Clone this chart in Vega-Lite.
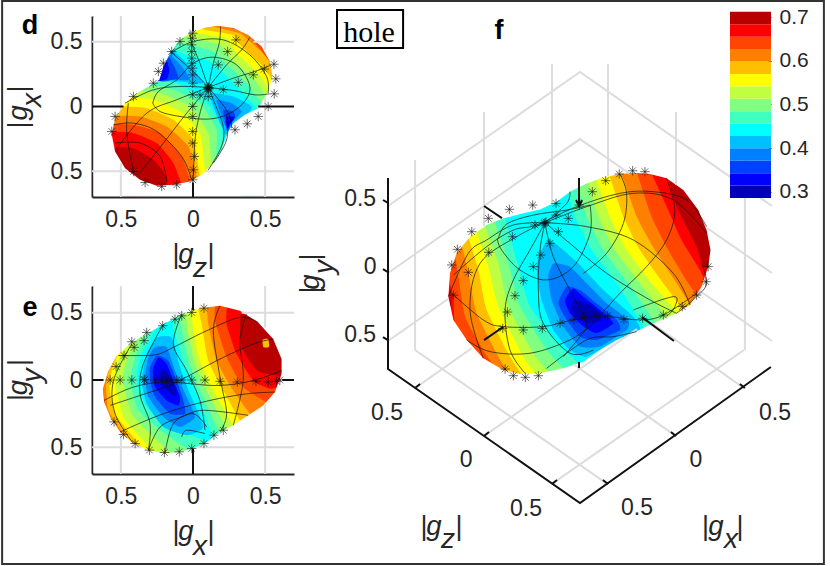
{"$schema":"https://vega.github.io/schema/vega-lite/v6.json","background":"white","padding":{"left":1,"top":0,"right":0,"bottom":0},"bounds":"flush","columns":3,"spacing":{"row":88,"column":94},"config":{"view":{"stroke":null},"axis":{"grid":false,"labelFont":"Liberation Sans","labelFontSize":23,"labelColor":"#262626","domainColor":"#262626","domainWidth":2,"tickColor":"#262626","title":null,"zindex":1}},
"datasets":{
"db":[
{"p":"a","v":0.44,"x":-0.644,"y":0.644},{"p":"a","v":0.44,"x":0.002,"y":0.665},{"p":"a","v":0.44,"x":0.648,"y":0.644},{"p":"a","v":0.44,"x":0.66,"y":0},{"p":"a","v":0.44,"x":0.648,"y":-0.657},{"p":"a","v":0.44,"x":0.002,"y":-0.675},{"p":"a","v":0.44,"x":-0.644,"y":-0.657},{"p":"a","v":0.44,"x":-0.655,"y":0},
{"p":"p1","v":0.47,"x":-0.298,"y":0.219},{"p":"p1","v":0.47,"x":-0.113,"y":0.18},{"p":"p1","v":0.47,"x":0.083,"y":0.052},{"p":"p1","v":0.47,"x":0.198,"y":-0.155},{"p":"p1","v":0.47,"x":0.21,"y":-0.309},{"p":"p1","v":0.47,"x":0.268,"y":-0.387},{"p":"p1","v":0.47,"x":0.095,"y":-0.644},{"p":"p1","v":0.47,"x":-0.644,"y":-0.657},{"p":"p1","v":0.47,"x":-0.644,"y":0.052},
{"p":"p2","v":0.5,"x":-0.355,"y":0.16},{"p":"p2","v":0.5,"x":-0.182,"y":0.149},{"p":"p2","v":0.5,"x":0.048,"y":0.026},{"p":"p2","v":0.5,"x":0.164,"y":-0.18},{"p":"p2","v":0.5,"x":0.164,"y":-0.387},{"p":"p2","v":0.5,"x":0.21,"y":-0.464},{"p":"p2","v":0.5,"x":0.048,"y":-0.644},{"p":"p2","v":0.5,"x":-0.644,"y":-0.657},{"p":"p2","v":0.5,"x":-0.644,"y":0},
{"p":"p3","v":0.53,"x":-0.424,"y":0.116},{"p":"p3","v":0.53,"x":-0.228,"y":0.103},{"p":"p3","v":0.53,"x":-0.021,"y":0},{"p":"p3","v":0.53,"x":0.106,"y":-0.206},{"p":"p3","v":0.53,"x":0.129,"y":-0.438},{"p":"p3","v":0.53,"x":0.164,"y":-0.503},{"p":"p3","v":0.53,"x":0.025,"y":-0.644},{"p":"p3","v":0.53,"x":-0.644,"y":-0.657},{"p":"p3","v":0.53,"x":-0.644,"y":-0.052},
{"p":"p4","v":0.56,"x":-0.482,"y":0.064},{"p":"p4","v":0.56,"x":-0.275,"y":0.052},{"p":"p4","v":0.56,"x":-0.09,"y":-0.039},{"p":"p4","v":0.56,"x":0.048,"y":-0.206},{"p":"p4","v":0.56,"x":0.083,"y":-0.477},{"p":"p4","v":0.56,"x":0.106,"y":-0.554},{"p":"p4","v":0.56,"x":-0.021,"y":-0.657},{"p":"p4","v":0.56,"x":-0.644,"y":-0.657},{"p":"p4","v":0.56,"x":-0.644,"y":-0.103},
{"p":"p5","v":0.58,"x":-0.528,"y":-0.005},{"p":"p5","v":0.58,"x":-0.321,"y":-0.013},{"p":"p5","v":0.58,"x":-0.136,"y":-0.103},{"p":"p5","v":0.58,"x":0.002,"y":-0.258},{"p":"p5","v":0.58,"x":0.042,"y":-0.503},{"p":"p5","v":0.58,"x":0.048,"y":-0.58},{"p":"p5","v":0.58,"x":-0.055,"y":-0.665},{"p":"p5","v":0.58,"x":-0.644,"y":-0.657},{"p":"p5","v":0.58,"x":-0.644,"y":-0.155},
{"p":"p6","v":0.61,"x":-0.586,"y":-0.077},{"p":"p6","v":0.61,"x":-0.367,"y":-0.077},{"p":"p6","v":0.61,"x":-0.182,"y":-0.155},{"p":"p6","v":0.61,"x":-0.032,"y":-0.309},{"p":"p6","v":0.61,"x":0.025,"y":-0.541},{"p":"p6","v":0.61,"x":0.025,"y":-0.618},{"p":"p6","v":0.61,"x":-0.113,"y":-0.665},{"p":"p6","v":0.61,"x":-0.644,"y":-0.657},{"p":"p6","v":0.61,"x":-0.644,"y":-0.18},
{"p":"p7","v":0.64,"x":-0.609,"y":-0.142},{"p":"p7","v":0.64,"x":-0.413,"y":-0.142},{"p":"p7","v":0.64,"x":-0.228,"y":-0.206},{"p":"p7","v":0.64,"x":-0.078,"y":-0.387},{"p":"p7","v":0.64,"x":-0.021,"y":-0.567},{"p":"p7","v":0.64,"x":-0.009,"y":-0.644},{"p":"p7","v":0.64,"x":-0.159,"y":-0.665},{"p":"p7","v":0.64,"x":-0.644,"y":-0.657},{"p":"p7","v":0.64,"x":-0.655,"y":-0.258},
{"p":"p8","v":0.67,"x":-0.609,"y":-0.198},{"p":"p8","v":0.67,"x":-0.413,"y":-0.206},{"p":"p8","v":0.67,"x":-0.251,"y":-0.283},{"p":"p8","v":0.67,"x":-0.136,"y":-0.438},{"p":"p8","v":0.67,"x":-0.078,"y":-0.606},{"p":"p8","v":0.67,"x":-0.078,"y":-0.657},{"p":"p8","v":0.67,"x":-0.205,"y":-0.665},{"p":"p8","v":0.67,"x":-0.644,"y":-0.657},{"p":"p8","v":0.67,"x":-0.644,"y":-0.335},
{"p":"p9","v":0.7,"x":-0.598,"y":-0.335},{"p":"p9","v":0.7,"x":-0.413,"y":-0.322},{"p":"p9","v":0.7,"x":-0.275,"y":-0.412},{"p":"p9","v":0.7,"x":-0.182,"y":-0.541},{"p":"p9","v":0.7,"x":-0.189,"y":-0.631},{"p":"p9","v":0.7,"x":-0.321,"y":-0.657},{"p":"p9","v":0.7,"x":-0.598,"y":-0.58},
{"p":"q1","v":0.47,"x":-0.171,"y":0.477},{"p":"q1","v":0.47,"x":-0.021,"y":0.387},{"p":"q1","v":0.47,"x":0.095,"y":0.361},{"p":"q1","v":0.47,"x":0.198,"y":0.271},{"p":"q1","v":0.47,"x":0.325,"y":0.129},{"p":"q1","v":0.47,"x":0.441,"y":-0.013},{"p":"q1","v":0.47,"x":0.487,"y":-0.064},{"p":"q1","v":0.47,"x":0.648,"y":-0.064},{"p":"q1","v":0.47,"x":0.648,"y":0.644},{"p":"q1","v":0.47,"x":0.048,"y":0.67},
{"p":"q2","v":0.5,"x":-0.136,"y":0.51},{"p":"q2","v":0.5,"x":0.025,"y":0.464},{"p":"q2","v":0.5,"x":0.141,"y":0.425},{"p":"q2","v":0.5,"x":0.233,"y":0.322},{"p":"q2","v":0.5,"x":0.371,"y":0.18},{"p":"q2","v":0.5,"x":0.475,"y":0.026},{"p":"q2","v":0.5,"x":0.533,"y":-0.026},{"p":"q2","v":0.5,"x":0.648,"y":-0.026},{"p":"q2","v":0.5,"x":0.648,"y":0.644},{"p":"q2","v":0.5,"x":0.072,"y":0.67},
{"p":"q3","v":0.53,"x":-0.102,"y":0.554},{"p":"q3","v":0.53,"x":0.06,"y":0.515},{"p":"q3","v":0.53,"x":0.187,"y":0.477},{"p":"q3","v":0.53,"x":0.268,"y":0.361},{"p":"q3","v":0.53,"x":0.418,"y":0.219},{"p":"q3","v":0.53,"x":0.51,"y":0.077},{"p":"q3","v":0.53,"x":0.579,"y":0.039},{"p":"q3","v":0.53,"x":0.648,"y":0.039},{"p":"q3","v":0.53,"x":0.648,"y":0.644},{"p":"q3","v":0.53,"x":0.095,"y":0.67},
{"p":"q4","v":0.56,"x":-0.055,"y":0.593},{"p":"q4","v":0.56,"x":0.095,"y":0.554},{"p":"q4","v":0.56,"x":0.233,"y":0.528},{"p":"q4","v":0.56,"x":0.302,"y":0.412},{"p":"q4","v":0.56,"x":0.452,"y":0.258},{"p":"q4","v":0.56,"x":0.533,"y":0.129},{"p":"q4","v":0.56,"x":0.602,"y":0.103},{"p":"q4","v":0.56,"x":0.648,"y":0.103},{"p":"q4","v":0.56,"x":0.648,"y":0.644},{"p":"q4","v":0.56,"x":0.118,"y":0.67},
{"p":"q5","v":0.58,"x":-0.009,"y":0.618},{"p":"q5","v":0.58,"x":0.141,"y":0.58},{"p":"q5","v":0.58,"x":0.279,"y":0.554},{"p":"q5","v":0.58,"x":0.337,"y":0.464},{"p":"q5","v":0.58,"x":0.487,"y":0.309},{"p":"q5","v":0.58,"x":0.551,"y":0.206},{"p":"q5","v":0.58,"x":0.614,"y":0.18},{"p":"q5","v":0.58,"x":0.648,"y":0.644},{"p":"q5","v":0.58,"x":0.141,"y":0.67},
{"p":"q6","v":0.61,"x":0.037,"y":0.644},{"p":"q6","v":0.61,"x":0.187,"y":0.606},{"p":"q6","v":0.61,"x":0.325,"y":0.567},{"p":"q6","v":0.61,"x":0.383,"y":0.515},{"p":"q6","v":0.61,"x":0.51,"y":0.387},{"p":"q6","v":0.61,"x":0.556,"y":0.283},{"p":"q6","v":0.61,"x":0.614,"y":0.271},{"p":"q6","v":0.61,"x":0.648,"y":0.644},{"p":"q6","v":0.61,"x":0.164,"y":0.683},
{"p":"q7","v":0.64,"x":0.095,"y":0.657},{"p":"q7","v":0.64,"x":0.233,"y":0.618},{"p":"q7","v":0.64,"x":0.371,"y":0.567},{"p":"q7","v":0.64,"x":0.441,"y":0.477},{"p":"q7","v":0.64,"x":0.533,"y":0.348},{"p":"q7","v":0.64,"x":0.614,"y":0.322},{"p":"q7","v":0.64,"x":0.648,"y":0.644},{"p":"q7","v":0.64,"x":0.187,"y":0.683},
{"p":"q8","v":0.67,"x":0.164,"y":0.665},{"p":"q8","v":0.67,"x":0.279,"y":0.606},{"p":"q8","v":0.67,"x":0.394,"y":0.554},{"p":"q8","v":0.67,"x":0.475,"y":0.464},{"p":"q8","v":0.67,"x":0.51,"y":0.412},{"p":"q8","v":0.67,"x":0.614,"y":0.4},{"p":"q8","v":0.67,"x":0.625,"y":0.644},{"p":"q8","v":0.67,"x":0.279,"y":0.683},
{"p":"u1","v":0.41,"x":-0.263,"y":0.206},{"p":"u1","v":0.41,"x":-0.205,"y":0.374},{"p":"u1","v":0.41,"x":-0.148,"y":0.438},{"p":"u1","v":0.41,"x":-0.021,"y":0.309},{"p":"u1","v":0.41,"x":0.072,"y":0.18},{"p":"u1","v":0.41,"x":-0.09,"y":0.193},{"p":"u1","v":0.41,"x":-0.182,"y":0.193},
{"p":"u2","v":0.39,"x":-0.251,"y":0.206},{"p":"u2","v":0.39,"x":-0.205,"y":0.335},{"p":"u2","v":0.39,"x":-0.159,"y":0.399},{"p":"u2","v":0.39,"x":-0.078,"y":0.309},{"p":"u2","v":0.39,"x":-0.021,"y":0.206},{"p":"u2","v":0.39,"x":-0.136,"y":0.206},{"p":"u2","v":0.39,"x":-0.205,"y":0.193},
{"p":"u3","v":0.36,"x":-0.247,"y":0.206},{"p":"u3","v":0.36,"x":-0.205,"y":0.322},{"p":"u3","v":0.36,"x":-0.166,"y":0.381},{"p":"u3","v":0.36,"x":-0.125,"y":0.296},{"p":"u3","v":0.36,"x":-0.102,"y":0.219},{"p":"u3","v":0.36,"x":-0.182,"y":0.201},
{"p":"u4","v":0.33,"x":-0.247,"y":0.201},{"p":"u4","v":0.33,"x":-0.21,"y":0.296},{"p":"u4","v":0.33,"x":-0.182,"y":0.348},{"p":"u4","v":0.33,"x":-0.164,"y":0.283},{"p":"u4","v":0.33,"x":-0.182,"y":0.211},
{"p":"w1","v":0.41,"x":0.118,"y":0.103},{"p":"w1","v":0.41,"x":0.279,"y":0.077},{"p":"w1","v":0.41,"x":0.406,"y":0},{"p":"w1","v":0.41,"x":0.371,"y":-0.077},{"p":"w1","v":0.41,"x":0.279,"y":-0.142},{"p":"w1","v":0.41,"x":0.238,"y":-0.232},{"p":"w1","v":0.41,"x":0.198,"y":-0.155},{"p":"w1","v":0.41,"x":0.141,"y":0},
{"p":"w2","v":0.39,"x":0.164,"y":0.052},{"p":"w2","v":0.39,"x":0.268,"y":0.026},{"p":"w2","v":0.39,"x":0.337,"y":-0.039},{"p":"w2","v":0.39,"x":0.268,"y":-0.129},{"p":"w2","v":0.39,"x":0.245,"y":-0.193},{"p":"w2","v":0.39,"x":0.215,"y":-0.129},{"p":"w2","v":0.39,"x":0.187,"y":-0.039},
{"p":"w3","v":0.36,"x":0.21,"y":-0.026},{"p":"w3","v":0.36,"x":0.279,"y":-0.039},{"p":"w3","v":0.36,"x":0.291,"y":-0.077},{"p":"w3","v":0.36,"x":0.256,"y":-0.142},{"p":"w3","v":0.36,"x":0.238,"y":-0.193},{"p":"w3","v":0.36,"x":0.221,"y":-0.103},
{"p":"w4","v":0.33,"x":0.233,"y":-0.077},{"p":"w4","v":0.33,"x":0.291,"y":-0.082},{"p":"w4","v":0.33,"x":0.256,"y":-0.142},{"p":"w4","v":0.33,"x":0.242,"y":-0.175},{"p":"w4","v":0.33,"x":0.228,"y":-0.129}
],
"dm":[{"x":-0.69,"y":0.69},{"x":-0.69,"y":-0.69},{"x":0.69,"y":-0.69},{"x":0.69,"y":0.69},{"x":-0.69,"y":0.69},{"x":0.175,"y":0.624},{"x":0.279,"y":0.608},{"x":0.383,"y":0.554},{"x":0.475,"y":0.464},{"x":0.533,"y":0.348},{"x":0.551,"y":0.232},{"x":0.521,"y":0.116},{"x":0.452,"y":-0.013},{"x":0.36,"y":-0.064},{"x":0.279,"y":-0.129},{"x":0.238,"y":-0.206},{"x":0.198,"y":-0.335},{"x":0.141,"y":-0.438},{"x":0.06,"y":-0.528},{"x":-0.021,"y":-0.58},{"x":-0.136,"y":-0.606},{"x":-0.251,"y":-0.613},{"x":-0.367,"y":-0.567},{"x":-0.471,"y":-0.477},{"x":-0.54,"y":-0.348},{"x":-0.563,"y":-0.219},{"x":-0.54,"y":-0.09},{"x":-0.471,"y":0.026},{"x":-0.39,"y":0.103},{"x":-0.286,"y":0.168},{"x":-0.233,"y":0.206},{"x":-0.205,"y":0.309},{"x":-0.159,"y":0.412},{"x":-0.09,"y":0.521},{"x":0.002,"y":0.58},{"x":0.095,"y":0.613},{"x":0.175,"y":0.624},{"x":-0.69,"y":0.69}],
"dg":[{"p":"a","k":"g","x":-0.5,"y":0.7},{"p":"a","k":"g","x":-0.5,"y":-0.026},{"p":"b","k":"g","x":-0.5,"y":-0.44},{"p":"b","k":"g","x":-0.5,"y":-0.7},{"p":"c","k":"g","x":0.5,"y":0.7},{"p":"c","k":"g","x":0.5,"y":0.438},{"p":"d","k":"g","x":0.5,"y":0.064},{"p":"d","k":"g","x":0.5,"y":-0.7},{"p":"e","k":"g","x":-0.7,"y":0.5},{"p":"e","k":"g","x":-0.106,"y":0.5},{"p":"f","k":"g","x":0.418,"y":0.5},{"p":"f","k":"g","x":0.7,"y":0.5},{"p":"h","k":"g","x":-0.7,"y":-0.5},{"p":"h","k":"g","x":-0.454,"y":-0.5},{"p":"i","k":"g","x":0.083,"y":-0.5},{"p":"i","k":"g","x":0.7,"y":-0.5},{"p":"j","k":"k","x":0,"y":0.7},{"p":"j","k":"k","x":0,"y":0.58},{"p":"l","k":"k","x":0,"y":-0.588},{"p":"l","k":"k","x":0,"y":-0.7},{"p":"m","k":"k","x":-0.7,"y":0},{"p":"m","k":"k","x":-0.482,"y":0},{"p":"n","k":"k","x":0.452,"y":0},{"p":"n","k":"k","x":0.7,"y":0}],
"dl":[{"p":"r1","x":0.106,"y":0.147},{"p":"r1","x":0.141,"y":0.335},{"p":"r1","x":0.182,"y":0.49},{"p":"r1","x":0.191,"y":0.618},
{"p":"r2","x":0.106,"y":0.147},{"p":"r2","x":0.233,"y":0.322},{"p":"r2","x":0.337,"y":0.438},{"p":"r2","x":0.394,"y":0.536},
{"p":"r3","x":0.106,"y":0.147},{"p":"r3","x":0.279,"y":0.219},{"p":"r3","x":0.429,"y":0.271},{"p":"r3","x":0.544,"y":0.322},
{"p":"r4","x":0.106,"y":0.147},{"p":"r4","x":0.279,"y":0.124},{"p":"r4","x":0.429,"y":0.09},{"p":"r4","x":0.528,"y":0.098},
{"p":"r5","x":0.106,"y":0.147},{"p":"r5","x":0.198,"y":0.026},{"p":"r5","x":0.256,"y":-0.077},{"p":"r5","x":0.268,"y":-0.168},
{"p":"r6","x":0.106,"y":0.147},{"p":"r6","x":0.141,"y":0.052},{"p":"r6","x":0.21,"y":-0.155},{"p":"r6","x":0.198,"y":-0.309},{"p":"r6","x":0.106,"y":-0.49},
{"p":"r7","x":0.106,"y":0.147},{"p":"r7","x":0.048,"y":-0.052},{"p":"r7","x":0.014,"y":-0.258},{"p":"r7","x":0.002,"y":-0.58},
{"p":"r8","x":0.106,"y":0.147},{"p":"r8","x":-0.044,"y":-0.052},{"p":"r8","x":-0.205,"y":-0.283},{"p":"r8","x":-0.378,"y":-0.528},
{"p":"r9","x":0.106,"y":0.147},{"p":"r9","x":-0.113,"y":0.052},{"p":"r9","x":-0.321,"y":-0.052},{"p":"r9","x":-0.528,"y":-0.322},
{"p":"ra","x":0.106,"y":0.147},{"p":"ra","x":-0.09,"y":0.155},{"p":"ra","x":-0.275,"y":0.129},{"p":"ra","x":-0.471,"y":0.026},
{"p":"rb","x":0.106,"y":0.147},{"p":"rb","x":0.025,"y":0.245},{"p":"rb","x":-0.09,"y":0.361},{"p":"rb","x":-0.159,"y":0.425},
{"p":"rc","x":0.106,"y":0.147},{"p":"rc","x":0.048,"y":0.335},{"p":"rc","x":-0.009,"y":0.49},{"p":"rc","x":-0.021,"y":0.58},
{"p":"l1","x":-0.279,"y":0.026},{"p":"l1","x":-0.24,"y":0.116},{"p":"l1","x":-0.113,"y":0.206},{"p":"l1","x":0.002,"y":0.335},{"p":"l1","x":0.141,"y":0.381},{"p":"l1","x":0.302,"y":0.322},{"p":"l1","x":0.394,"y":0.155},{"p":"l1","x":0.348,"y":0.026},{"p":"l1","x":0.233,"y":-0.064},{"p":"l1","x":0.095,"y":-0.098},{"p":"l1","x":-0.09,"y":-0.077},{"p":"l1","x":-0.228,"y":-0.039},{"p":"l1","x":-0.279,"y":0.026},
{"p":"l2","x":-0.159,"y":0.412},{"p":"l2","x":0.002,"y":0.503},{"p":"l2","x":0.21,"y":0.515},{"p":"l2","x":0.394,"y":0.399},{"p":"l2","x":0.51,"y":0.232},{"p":"l2","x":0.521,"y":0.103},
{"p":"l3","x":-0.448,"y":0.026},{"p":"l3","x":-0.459,"y":-0.206},{"p":"l3","x":-0.413,"y":-0.503},
{"p":"l4","x":-0.551,"y":-0.142},{"p":"l4","x":-0.413,"y":-0.129},{"p":"l4","x":-0.251,"y":-0.193},{"p":"l4","x":-0.078,"y":-0.387},{"p":"l4","x":-0.009,"y":-0.567},
{"p":"l5","x":-0.54,"y":-0.283},{"p":"l5","x":-0.367,"y":-0.283},{"p":"l5","x":-0.228,"y":-0.387},{"p":"l5","x":-0.182,"y":-0.58},
{"p":"l6","x":0.233,"y":-0.064},{"p":"l6","x":0.233,"y":-0.258},{"p":"l6","x":0.141,"y":-0.438}],
"ds":[{"x":-0.002,"y":0.567},{"x":-0.005,"y":0.528},{"x":-0.009,"y":0.477},{"x":-0.009,"y":0.425},{"x":-0.009,"y":0.374},{"x":-0.009,"y":0.335},{"x":-0.002,"y":0.296},{"x":-0.002,"y":0.245},{"x":-0.002,"y":0.18},{"x":-0.002,"y":0.09},{"x":-0.002,"y":0},{"x":-0.002,"y":-0.077},{"x":-0.002,"y":-0.193},{"x":-0.002,"y":-0.283},{"x":0.009,"y":-0.387},{"x":0.002,"y":-0.49},{"x":-0.002,"y":-0.567},{"x":0.298,"y":0.515},{"x":0.24,"y":0.425},{"x":0.175,"y":0.322},{"x":0.561,"y":0.327},{"x":0.494,"y":0.289},{"x":0.418,"y":0.245},{"x":0.574,"y":0.214},{"x":0.563,"y":0.098},{"x":0.521,"y":0},{"x":0.452,"y":-0.077},{"x":0.376,"y":-0.134},{"x":0.291,"y":-0.18},{"x":0.314,"y":0.186},{"x":0.21,"y":0.129},{"x":0.106,"y":0.142},{"x":0.11,"y":0.148},{"x":0.102,"y":0.148},{"x":0.11,"y":0.136},{"x":0.102,"y":0.136},{"x":0.106,"y":0.077},{"x":0.048,"y":0.09},{"x":-0.09,"y":0.503},{"x":-0.148,"y":0.425},{"x":-0.205,"y":0.335},{"x":-0.24,"y":0.271},{"x":-0.275,"y":0.18},{"x":-0.413,"y":0.077},{"x":-0.54,"y":-0.077},{"x":-0.563,"y":-0.193},{"x":-0.332,"y":-0.588},{"x":-0.217,"y":-0.618},{"x":-0.113,"y":-0.606},{"x":-0.413,"y":-0.503}],
"dt":[{"t":"|","k":"p","o":"h","x":-0.118,"y":-1.21},{"t":"g","k":"g","o":"h","x":-0.049,"y":-1.21},{"t":"z","k":"s","o":"h","x":0.049,"y":-1.319},{"t":"|","k":"p","o":"h","x":0.125,"y":-1.21},{"t":"|","k":"p","o":"v","x":-1.15,"y":-0.143},{"t":"g","k":"g","o":"v","x":-1.15,"y":-0.05},{"t":"x","k":"s","o":"v","x":-1.053,"y":0.05},{"t":"|","k":"p","o":"v","x":-1.15,"y":0.135}],
"eb":[
{"p":"a","v":0.44,"x":-0.644,"y":0.6},{"p":"a","v":0.44,"x":0.002,"y":0.64},{"p":"a","v":0.44,"x":0.648,"y":0.6},{"p":"a","v":0.44,"x":0.67,"y":0},{"p":"a","v":0.44,"x":0.648,"y":-0.62},{"p":"a","v":0.44,"x":0.002,"y":-0.65},{"p":"a","v":0.44,"x":-0.644,"y":-0.62},{"p":"a","v":0.44,"x":-0.667,"y":0},
{"p":"l1","v":0.47,"x":-0.251,"y":0.441},{"p":"l1","v":0.47,"x":-0.355,"y":0.194},{"p":"l1","v":0.47,"x":-0.39,"y":-0.004},{"p":"l1","v":0.47,"x":-0.321,"y":-0.201},{"p":"l1","v":0.47,"x":-0.159,"y":-0.35},{"p":"l1","v":0.47,"x":0.072,"y":-0.448},{"p":"l1","v":0.47,"x":0.164,"y":-0.572},{"p":"l1","v":0.47,"x":-0.644,"y":-0.621},{"p":"l1","v":0.47,"x":-0.644,"y":0.416},
{"p":"l2","v":0.5,"x":-0.321,"y":0.404},{"p":"l2","v":0.5,"x":-0.401,"y":0.169},{"p":"l2","v":0.5,"x":-0.436,"y":-0.004},{"p":"l2","v":0.5,"x":-0.378,"y":-0.226},{"p":"l2","v":0.5,"x":-0.228,"y":-0.374},{"p":"l2","v":0.5,"x":-0.044,"y":-0.51},{"p":"l2","v":0.5,"x":0.048,"y":-0.596},{"p":"l2","v":0.5,"x":-0.644,"y":-0.621},{"p":"l2","v":0.5,"x":-0.644,"y":0.367},
{"p":"l3","v":0.53,"x":-0.378,"y":0.367},{"p":"l3","v":0.53,"x":-0.459,"y":0.144},{"p":"l3","v":0.53,"x":-0.487,"y":-0.004},{"p":"l3","v":0.53,"x":-0.424,"y":-0.251},{"p":"l3","v":0.53,"x":-0.286,"y":-0.411},{"p":"l3","v":0.53,"x":-0.136,"y":-0.559},{"p":"l3","v":0.53,"x":-0.067,"y":-0.621},{"p":"l3","v":0.53,"x":-0.644,"y":-0.621},{"p":"l3","v":0.53,"x":-0.644,"y":0.317},
{"p":"l4","v":0.56,"x":-0.436,"y":0.317},{"p":"l4","v":0.56,"x":-0.517,"y":0.144},{"p":"l4","v":0.56,"x":-0.54,"y":-0.028},{"p":"l4","v":0.56,"x":-0.482,"y":-0.275},{"p":"l4","v":0.56,"x":-0.367,"y":-0.424},{"p":"l4","v":0.56,"x":-0.228,"y":-0.572},{"p":"l4","v":0.56,"x":-0.159,"y":-0.634},{"p":"l4","v":0.56,"x":-0.644,"y":-0.621},{"p":"l4","v":0.56,"x":-0.644,"y":0.268},
{"p":"l5","v":0.58,"x":-0.505,"y":0.256},{"p":"l5","v":0.58,"x":-0.563,"y":0.07},{"p":"l5","v":0.58,"x":-0.579,"y":-0.053},{"p":"l5","v":0.58,"x":-0.54,"y":-0.251},{"p":"l5","v":0.58,"x":-0.424,"y":-0.411},{"p":"l5","v":0.58,"x":-0.321,"y":-0.547},{"p":"l5","v":0.58,"x":-0.263,"y":-0.621},{"p":"l5","v":0.58,"x":-0.644,"y":-0.621},{"p":"l5","v":0.58,"x":-0.644,"y":0.219},
{"p":"l6","v":0.61,"x":-0.563,"y":0.182},{"p":"l6","v":0.61,"x":-0.602,"y":-0.028},{"p":"l6","v":0.61,"x":-0.586,"y":-0.226},{"p":"l6","v":0.61,"x":-0.482,"y":-0.399},{"p":"l6","v":0.61,"x":-0.413,"y":-0.498},{"p":"l6","v":0.61,"x":-0.367,"y":-0.609},{"p":"l6","v":0.61,"x":-0.644,"y":-0.621},{"p":"l6","v":0.61,"x":-0.644,"y":0.144},
{"p":"l7","v":0.64,"x":-0.609,"y":0.07},{"p":"l7","v":0.64,"x":-0.625,"y":-0.053},{"p":"l7","v":0.64,"x":-0.593,"y":-0.251},{"p":"l7","v":0.64,"x":-0.528,"y":-0.362},{"p":"l7","v":0.64,"x":-0.459,"y":-0.473},{"p":"l7","v":0.64,"x":-0.436,"y":-0.572},{"p":"l7","v":0.64,"x":-0.655,"y":-0.596},{"p":"l7","v":0.64,"x":-0.655,"y":0.07},
{"p":"l8","v":0.67,"x":-0.632,"y":-0.102},{"p":"l8","v":0.67,"x":-0.616,"y":-0.214},{"p":"l8","v":0.67,"x":-0.563,"y":-0.325},{"p":"l8","v":0.67,"x":-0.505,"y":-0.424},{"p":"l8","v":0.67,"x":-0.551,"y":-0.498},{"p":"l8","v":0.67,"x":-0.655,"y":-0.448},{"p":"l8","v":0.67,"x":-0.667,"y":-0.102},
{"p":"r1","v":0.47,"x":-0.171,"y":0.503},{"p":"r1","v":0.47,"x":-0.148,"y":0.453},{"p":"r1","v":0.47,"x":-0.113,"y":0.293},{"p":"r1","v":0.47,"x":-0.055,"y":0.095},{"p":"r1","v":0.47,"x":0.025,"y":-0.103},{"p":"r1","v":0.47,"x":0.141,"y":-0.436},{"p":"r1","v":0.47,"x":0.187,"y":-0.547},{"p":"r1","v":0.47,"x":0.635,"y":-0.498},{"p":"r1","v":0.47,"x":0.635,"y":0.589},{"p":"r1","v":0.47,"x":0.048,"y":0.601},
{"p":"r2","v":0.5,"x":-0.125,"y":0.527},{"p":"r2","v":0.5,"x":-0.102,"y":0.478},{"p":"r2","v":0.5,"x":-0.067,"y":0.317},{"p":"r2","v":0.5,"x":-0.021,"y":0.107},{"p":"r2","v":0.5,"x":0.06,"y":-0.103},{"p":"r2","v":0.5,"x":0.187,"y":-0.399},{"p":"r2","v":0.5,"x":0.256,"y":-0.498},{"p":"r2","v":0.5,"x":0.635,"y":-0.498},{"p":"r2","v":0.5,"x":0.635,"y":0.589},{"p":"r2","v":0.5,"x":0.072,"y":0.601},
{"p":"r3","v":0.53,"x":-0.067,"y":0.552},{"p":"r3","v":0.53,"x":-0.055,"y":0.503},{"p":"r3","v":0.53,"x":-0.032,"y":0.342},{"p":"r3","v":0.53,"x":0.014,"y":0.12},{"p":"r3","v":0.53,"x":0.106,"y":-0.103},{"p":"r3","v":0.53,"x":0.233,"y":-0.362},{"p":"r3","v":0.53,"x":0.291,"y":-0.448},{"p":"r3","v":0.53,"x":0.635,"y":-0.473},{"p":"r3","v":0.53,"x":0.635,"y":0.589},{"p":"r3","v":0.53,"x":0.095,"y":0.601},
{"p":"r4","v":0.56,"x":-0.021,"y":0.564},{"p":"r4","v":0.56,"x":-0.009,"y":0.515},{"p":"r4","v":0.56,"x":0.002,"y":0.367},{"p":"r4","v":0.56,"x":0.048,"y":0.144},{"p":"r4","v":0.56,"x":0.152,"y":-0.103},{"p":"r4","v":0.56,"x":0.279,"y":-0.337},{"p":"r4","v":0.56,"x":0.337,"y":-0.424},{"p":"r4","v":0.56,"x":0.635,"y":-0.448},{"p":"r4","v":0.56,"x":0.635,"y":0.589},{"p":"r4","v":0.56,"x":0.118,"y":0.601},
{"p":"r5","v":0.58,"x":0.025,"y":0.577},{"p":"r5","v":0.58,"x":0.037,"y":0.527},{"p":"r5","v":0.58,"x":0.06,"y":0.416},{"p":"r5","v":0.58,"x":0.106,"y":0.144},{"p":"r5","v":0.58,"x":0.21,"y":-0.078},{"p":"r5","v":0.58,"x":0.325,"y":-0.3},{"p":"r5","v":0.58,"x":0.383,"y":-0.374},{"p":"r5","v":0.58,"x":0.635,"y":-0.424},{"p":"r5","v":0.58,"x":0.635,"y":0.589},{"p":"r5","v":0.58,"x":0.141,"y":0.614},
{"p":"r6","v":0.61,"x":0.083,"y":0.589},{"p":"r6","v":0.61,"x":0.095,"y":0.54},{"p":"r6","v":0.61,"x":0.106,"y":0.416},{"p":"r6","v":0.61,"x":0.164,"y":0.144},{"p":"r6","v":0.61,"x":0.279,"y":-0.078},{"p":"r6","v":0.61,"x":0.394,"y":-0.251},{"p":"r6","v":0.61,"x":0.452,"y":-0.325},{"p":"r6","v":0.61,"x":0.635,"y":-0.399},{"p":"r6","v":0.61,"x":0.635,"y":0.589},{"p":"r6","v":0.61,"x":0.164,"y":0.614},
{"p":"r7","v":0.64,"x":0.141,"y":0.601},{"p":"r7","v":0.64,"x":0.152,"y":0.552},{"p":"r7","v":0.64,"x":0.152,"y":0.441},{"p":"r7","v":0.64,"x":0.233,"y":0.169},{"p":"r7","v":0.64,"x":0.348,"y":-0.053},{"p":"r7","v":0.64,"x":0.487,"y":-0.152},{"p":"r7","v":0.64,"x":0.579,"y":-0.201},{"p":"r7","v":0.64,"x":0.635,"y":-0.325},{"p":"r7","v":0.64,"x":0.635,"y":0.589},{"p":"r7","v":0.64,"x":0.233,"y":0.618},
{"p":"r8","v":0.67,"x":0.221,"y":0.589},{"p":"r8","v":0.67,"x":0.233,"y":0.545},{"p":"r8","v":0.67,"x":0.233,"y":0.416},{"p":"r8","v":0.67,"x":0.302,"y":0.194},{"p":"r8","v":0.67,"x":0.418,"y":-0.004},{"p":"r8","v":0.67,"x":0.533,"y":-0.065},{"p":"r8","v":0.67,"x":0.591,"y":-0.053},{"p":"r8","v":0.67,"x":0.635,"y":-0.028},{"p":"r8","v":0.67,"x":0.635,"y":0.589},{"p":"r8","v":0.67,"x":0.279,"y":0.618},
{"p":"r9","v":0.7,"x":0.325,"y":0.441},{"p":"r9","v":0.7,"x":0.337,"y":0.243},{"p":"r9","v":0.7,"x":0.441,"y":0.07},{"p":"r9","v":0.7,"x":0.579,"y":0.033},{"p":"r9","v":0.7,"x":0.648,"y":0.058},{"p":"r9","v":0.7,"x":0.648,"y":0.342},{"p":"r9","v":0.7,"x":0.487,"y":0.466},{"p":"r9","v":0.7,"x":0.348,"y":0.527},
{"p":"rz","v":0.58,"x":0.482,"y":0.298},{"p":"rz","v":0.58,"x":0.521,"y":0.305},{"p":"rz","v":0.58,"x":0.528,"y":0.248},{"p":"rz","v":0.58,"x":0.489,"y":0.243},
{"p":"u1","v":0.41,"x":-0.251,"y":0.317},{"p":"u1","v":0.41,"x":-0.148,"y":0.317},{"p":"u1","v":0.41,"x":-0.09,"y":0.095},{"p":"u1","v":0.41,"x":-0.021,"y":-0.103},{"p":"u1","v":0.41,"x":0.072,"y":-0.35},{"p":"u1","v":0.41,"x":-0.044,"y":-0.411},{"p":"u1","v":0.41,"x":-0.205,"y":-0.35},{"p":"u1","v":0.41,"x":-0.321,"y":-0.177},{"p":"u1","v":0.41,"x":-0.355,"y":-0.004},{"p":"u1","v":0.41,"x":-0.321,"y":0.194},
{"p":"u2","v":0.39,"x":-0.263,"y":0.243},{"p":"u2","v":0.39,"x":-0.182,"y":0.243},{"p":"u2","v":0.39,"x":-0.125,"y":0.07},{"p":"u2","v":0.39,"x":-0.055,"y":-0.103},{"p":"u2","v":0.39,"x":0.014,"y":-0.275},{"p":"u2","v":0.39,"x":-0.09,"y":-0.35},{"p":"u2","v":0.39,"x":-0.205,"y":-0.275},{"p":"u2","v":0.39,"x":-0.309,"y":-0.127},{"p":"u2","v":0.39,"x":-0.332,"y":0.021},{"p":"u2","v":0.39,"x":-0.309,"y":0.169},
{"p":"u3","v":0.36,"x":-0.251,"y":0.182},{"p":"u3","v":0.36,"x":-0.171,"y":0.144},{"p":"u3","v":0.36,"x":-0.113,"y":-0.004},{"p":"u3","v":0.36,"x":-0.067,"y":-0.152},{"p":"u3","v":0.36,"x":-0.055,"y":-0.251},{"p":"u3","v":0.36,"x":-0.159,"y":-0.251},{"p":"u3","v":0.36,"x":-0.263,"y":-0.127},{"p":"u3","v":0.36,"x":-0.298,"y":-0.004},{"p":"u3","v":0.36,"x":-0.298,"y":0.095},
{"p":"u4","v":0.33,"x":-0.24,"y":0.169},{"p":"u4","v":0.33,"x":-0.182,"y":0.12},{"p":"u4","v":0.33,"x":-0.136,"y":-0.004},{"p":"u4","v":0.33,"x":-0.09,"y":-0.127},{"p":"u4","v":0.33,"x":-0.102,"y":-0.189},{"p":"u4","v":0.33,"x":-0.182,"y":-0.152},{"p":"u4","v":0.33,"x":-0.263,"y":-0.053},{"p":"u4","v":0.33,"x":-0.279,"y":0.07},
{"p":"u5","v":0.3,"x":-0.205,"y":0.083},{"p":"u5","v":0.3,"x":-0.159,"y":0.021},{"p":"u5","v":0.3,"x":-0.113,"y":-0.103},{"p":"u5","v":0.3,"x":-0.136,"y":-0.115},{"p":"u5","v":0.3,"x":-0.205,"y":-0.053},{"p":"u5","v":0.3,"x":-0.24,"y":0.021}
],
"em":[{"x":-0.69,"y":0.69},{"x":-0.69,"y":-0.69},{"x":0.69,"y":-0.69},{"x":0.69,"y":0.69},{"x":-0.69,"y":0.69},{"x":0.187,"y":0.552},{"x":0.325,"y":0.515},{"x":0.452,"y":0.429},{"x":0.556,"y":0.305},{"x":0.614,"y":0.157},{"x":0.614,"y":0.046},{"x":0.568,"y":-0.09},{"x":0.487,"y":-0.189},{"x":0.383,"y":-0.263},{"x":0.279,"y":-0.337},{"x":0.187,"y":-0.387},{"x":0.083,"y":-0.473},{"x":0.002,"y":-0.51},{"x":-0.09,"y":-0.535},{"x":-0.194,"y":-0.547},{"x":-0.309,"y":-0.522},{"x":-0.413,"y":-0.473},{"x":-0.505,"y":-0.387},{"x":-0.574,"y":-0.275},{"x":-0.616,"y":-0.164},{"x":-0.625,"y":-0.065},{"x":-0.586,"y":0.07},{"x":-0.528,"y":0.182},{"x":-0.424,"y":0.28},{"x":-0.321,"y":0.342},{"x":-0.205,"y":0.416},{"x":-0.078,"y":0.49},{"x":0.048,"y":0.535},{"x":0.187,"y":0.552},{"x":-0.69,"y":0.69}],
"eg":[{"p":"a","k":"g","x":-0.5,"y":0.7},{"p":"a","k":"g","x":-0.5,"y":0.206},{"p":"b","k":"g","x":-0.5,"y":-0.389},{"p":"b","k":"g","x":-0.5,"y":-0.7},{"p":"c","k":"g","x":0.5,"y":0.7},{"p":"c","k":"g","x":0.5,"y":0.39},{"p":"d","k":"g","x":0.5,"y":-0.177},{"p":"d","k":"g","x":0.5,"y":-0.7},{"p":"e","k":"g","x":-0.7,"y":0.5},{"p":"e","k":"g","x":-0.067,"y":0.5},{"p":"f","k":"g","x":0.337,"y":0.5},{"p":"f","k":"g","x":0.7,"y":0.5},{"p":"h","k":"g","x":-0.7,"y":-0.5},{"p":"h","k":"g","x":-0.355,"y":-0.5},{"p":"i","k":"g","x":0.037,"y":-0.5},{"p":"i","k":"g","x":0.7,"y":-0.5},{"p":"j","k":"k","x":0,"y":0.7},{"p":"j","k":"k","x":0,"y":0.52},{"p":"l","k":"k","x":0,"y":-0.51},{"p":"l","k":"k","x":0,"y":-0.7},{"p":"m","k":"k","x":-0.7,"y":0},{"p":"m","k":"k","x":-0.62,"y":0},{"p":"n","k":"k","x":0.618,"y":0},{"p":"n","k":"k","x":0.7,"y":0}],
"el":[{"p":"a","x":-0.616,"y":-0.152},{"p":"a","x":-0.413,"y":-0.053},{"p":"a","x":-0.182,"y":-0.016},{"p":"a","x":0.164,"y":-0.041},{"p":"a","x":0.418,"y":-0.004},{"p":"a","x":0.614,"y":0.07},
{"p":"b","x":-0.517,"y":0.182},{"p":"b","x":-0.39,"y":0.182},{"p":"b","x":-0.251,"y":0.189},{"p":"b","x":-0.136,"y":0.243},{"p":"b","x":0.095,"y":0.367},{"p":"b","x":0.325,"y":0.466},{"p":"b","x":0.452,"y":0.429},
{"p":"c","x":-0.574,"y":-0.189},{"p":"c","x":-0.367,"y":-0.115},{"p":"c","x":-0.136,"y":-0.028},{"p":"c","x":0.164,"y":0.144},{"p":"c","x":0.418,"y":0.268},{"p":"c","x":0.556,"y":0.305},
{"p":"d","x":-0.505,"y":-0.387},{"p":"d","x":-0.321,"y":-0.3},{"p":"d","x":-0.136,"y":-0.226},{"p":"d","x":0.118,"y":-0.152},{"p":"d","x":0.371,"y":-0.103},{"p":"d","x":0.568,"y":-0.09},
{"p":"e","x":-0.309,"y":-0.522},{"p":"e","x":-0.228,"y":-0.35},{"p":"e","x":-0.078,"y":-0.275},{"p":"e","x":0.072,"y":-0.226},{"p":"e","x":0.383,"y":-0.263},
{"p":"v1","x":-0.424,"y":0.268},{"p":"v1","x":-0.551,"y":-0.004},{"p":"v1","x":-0.54,"y":-0.251},{"p":"v1","x":-0.413,"y":-0.473},
{"p":"v2","x":-0.205,"y":0.416},{"p":"v2","x":-0.344,"y":0.12},{"p":"v2","x":-0.367,"y":-0.103},{"p":"v2","x":-0.298,"y":-0.325},{"p":"v2","x":-0.309,"y":-0.522},
{"p":"v3","x":-0.078,"y":0.49},{"p":"v3","x":-0.136,"y":0.268},{"p":"v3","x":-0.044,"y":0.07},{"p":"v3","x":0.048,"y":-0.152},{"p":"v3","x":0.083,"y":-0.374},
{"p":"v4","x":0.187,"y":0.552},{"p":"v4","x":0.141,"y":0.367},{"p":"v4","x":0.187,"y":0.021},{"p":"v4","x":0.233,"y":-0.251},{"p":"v4","x":0.187,"y":-0.387},
{"p":"v5","x":0.371,"y":0.49},{"p":"v5","x":0.325,"y":0.293},{"p":"v5","x":0.348,"y":-0.004},{"p":"v5","x":0.279,"y":-0.337},
{"p":"v7","x":-0.078,"y":-0.424},{"p":"v7","x":-0.044,"y":-0.374},{"p":"v7","x":0.083,"y":-0.399},
{"p":"v8","x":-0.194,"y":-0.547},{"p":"v8","x":-0.136,"y":-0.325},{"p":"v8","x":0.002,"y":-0.251},{"p":"v8","x":0.095,"y":-0.35}],
"es":[{"x":-0.574,"y":0},{"x":-0.505,"y":0},{"x":-0.424,"y":0},{"x":-0.339,"y":0},{"x":-0.335,"y":0.004},{"x":-0.263,"y":0},{"x":-0.217,"y":0},{"x":-0.182,"y":0},{"x":-0.148,"y":0},{"x":-0.113,"y":0},{"x":-0.078,"y":0},{"x":-0.009,"y":0},{"x":0.083,"y":0},{"x":0.187,"y":-0.01},{"x":0.307,"y":-0.015},{"x":0.436,"y":-0.01},{"x":0.521,"y":-0.015},{"x":0.579,"y":-0.01},{"x":0.602,"y":0},{"x":-0.424,"y":0.285},{"x":-0.408,"y":0.243},{"x":-0.478,"y":0.182},{"x":-0.533,"y":0.1},{"x":-0.321,"y":0.354},{"x":-0.21,"y":0.404},{"x":-0.125,"y":0.453},{"x":-0.078,"y":0.478},{"x":-0.339,"y":0.293},{"x":-0.009,"y":0.503},{"x":0.076,"y":0.535},{"x":-0.547,"y":-0.312},{"x":-0.482,"y":-0.406},{"x":-0.401,"y":-0.473},{"x":-0.302,"y":-0.522},{"x":-0.198,"y":-0.54},{"x":-0.095,"y":-0.535},{"x":-0.009,"y":-0.51},{"x":0.076,"y":-0.473},{"x":0.145,"y":-0.411},{"x":0.21,"y":-0.374}],
"et":[{"t":"|","k":"p","o":"h","x":-0.118,"y":-1.189},{"t":"g","k":"g","o":"h","x":-0.049,"y":-1.189},{"t":"x","k":"s","o":"h","x":0.049,"y":-1.3},{"t":"|","k":"p","o":"h","x":0.125,"y":-1.189},{"t":"|","k":"p","o":"v","x":-1.15,"y":-0.13},{"t":"g","k":"g","o":"v","x":-1.15,"y":-0.056},{"t":"y","k":"s","o":"v","x":-1.053,"y":0.033},{"t":"|","k":"p","o":"v","x":-1.15,"y":0.13}],
"fb":[
{"p":"a","v":0.44,"x":-1.078,"y":0.843},{"p":"a","v":0.44,"x":0,"y":0.87},{"p":"a","v":0.44,"x":1.078,"y":0.843},{"p":"a","v":0.44,"x":1.1,"y":0},{"p":"a","v":0.44,"x":1.078,"y":-0.872},{"p":"a","v":0.44,"x":0,"y":-0.9},{"p":"a","v":0.44,"x":-1.078,"y":-0.872},{"p":"a","v":0.44,"x":-1.1,"y":0},
{"p":"l1","v":0.47,"x":-0.564,"y":0.488},{"p":"l1","v":0.47,"x":-0.551,"y":0.402},{"p":"l1","v":0.47,"x":-0.466,"y":0.096},{"p":"l1","v":0.47,"x":-0.368,"y":-0.247},{"p":"l1","v":0.47,"x":-0.147,"y":-0.541},{"p":"l1","v":0.47,"x":-0.025,"y":-0.652},{"p":"l1","v":0.47,"x":0.025,"y":-0.786},{"p":"l1","v":0.47,"x":-1.078,"y":-0.835},{"p":"l1","v":0.47,"x":-1.078,"y":0.512},
{"p":"l2","v":0.5,"x":-0.637,"y":0.463},{"p":"l2","v":0.5,"x":-0.625,"y":0.377},{"p":"l2","v":0.5,"x":-0.527,"y":0.071},{"p":"l2","v":0.5,"x":-0.441,"y":-0.247},{"p":"l2","v":0.5,"x":-0.245,"y":-0.566},{"p":"l2","v":0.5,"x":-0.123,"y":-0.701},{"p":"l2","v":0.5,"x":-0.086,"y":-0.811},{"p":"l2","v":0.5,"x":-1.078,"y":-0.835},{"p":"l2","v":0.5,"x":-1.078,"y":0.5},
{"p":"l3","v":0.53,"x":-0.711,"y":0.414},{"p":"l3","v":0.53,"x":-0.698,"y":0.345},{"p":"l3","v":0.53,"x":-0.6,"y":0.071},{"p":"l3","v":0.53,"x":-0.527,"y":-0.247},{"p":"l3","v":0.53,"x":-0.343,"y":-0.59},{"p":"l3","v":0.53,"x":-0.233,"y":-0.733},{"p":"l3","v":0.53,"x":-0.196,"y":-0.823},{"p":"l3","v":0.53,"x":-1.078,"y":-0.835},{"p":"l3","v":0.53,"x":-1.078,"y":0.475},
{"p":"l4","v":0.56,"x":-0.784,"y":0.377},{"p":"l4","v":0.56,"x":-0.76,"y":0.304},{"p":"l4","v":0.56,"x":-0.674,"y":0.047},{"p":"l4","v":0.56,"x":-0.6,"y":-0.247},{"p":"l4","v":0.56,"x":-0.417,"y":-0.615},{"p":"l4","v":0.56,"x":-0.319,"y":-0.75},{"p":"l4","v":0.56,"x":-0.282,"y":-0.835},{"p":"l4","v":0.56,"x":-1.078,"y":-0.835},{"p":"l4","v":0.56,"x":-1.078,"y":0.451},
{"p":"l5","v":0.58,"x":-0.845,"y":0.328},{"p":"l5","v":0.58,"x":-0.821,"y":0.262},{"p":"l5","v":0.58,"x":-0.747,"y":0.022},{"p":"l5","v":0.58,"x":-0.686,"y":-0.272},{"p":"l5","v":0.58,"x":-0.515,"y":-0.615},{"p":"l5","v":0.58,"x":-0.417,"y":-0.762},{"p":"l5","v":0.58,"x":-0.38,"y":-0.84},{"p":"l5","v":0.58,"x":-1.078,"y":-0.835},{"p":"l5","v":0.58,"x":-1.078,"y":0.414},
{"p":"l6","v":0.61,"x":-0.907,"y":0.267},{"p":"l6","v":0.61,"x":-0.87,"y":0.206},{"p":"l6","v":0.61,"x":-0.821,"y":-0.002},{"p":"l6","v":0.61,"x":-0.76,"y":-0.296},{"p":"l6","v":0.61,"x":-0.6,"y":-0.615},{"p":"l6","v":0.61,"x":-0.515,"y":-0.75},{"p":"l6","v":0.61,"x":-0.478,"y":-0.835},{"p":"l6","v":0.61,"x":-1.078,"y":-0.835},{"p":"l6","v":0.61,"x":-1.078,"y":0.365},
{"p":"l7","v":0.64,"x":-0.956,"y":0.181},{"p":"l7","v":0.64,"x":-0.919,"y":0.12},{"p":"l7","v":0.64,"x":-0.894,"y":-0.027},{"p":"l7","v":0.64,"x":-0.845,"y":-0.321},{"p":"l7","v":0.64,"x":-0.698,"y":-0.59},{"p":"l7","v":0.64,"x":-0.6,"y":-0.725},{"p":"l7","v":0.64,"x":-0.564,"y":-0.811},{"p":"l7","v":0.64,"x":-1.078,"y":-0.811},{"p":"l7","v":0.64,"x":-1.078,"y":0.267},
{"p":"l8","v":0.67,"x":-1.005,"y":0.047},{"p":"l8","v":0.67,"x":-0.968,"y":-0.027},{"p":"l8","v":0.67,"x":-0.931,"y":-0.198},{"p":"l8","v":0.67,"x":-0.919,"y":-0.37},{"p":"l8","v":0.67,"x":-0.809,"y":-0.541},{"p":"l8","v":0.67,"x":-0.711,"y":-0.652},{"p":"l8","v":0.67,"x":-0.649,"y":-0.762},{"p":"l8","v":0.67,"x":-1.078,"y":-0.762},{"p":"l8","v":0.67,"x":-1.078,"y":0.071},
{"p":"l9","v":0.7,"x":-1.017,"y":-0.149},{"p":"l9","v":0.7,"x":-0.951,"y":-0.198},{"p":"l9","v":0.7,"x":-0.943,"y":-0.321},{"p":"l9","v":0.7,"x":-0.858,"y":-0.492},{"p":"l9","v":0.7,"x":-0.931,"y":-0.517},{"p":"l9","v":0.7,"x":-1.029,"y":-0.37},
{"p":"r1","v":0.47,"x":-0.098,"y":0.635},{"p":"r1","v":0.47,"x":-0.086,"y":0.586},{"p":"r1","v":0.47,"x":-0.037,"y":0.414},{"p":"r1","v":0.47,"x":0.086,"y":0.169},{"p":"r1","v":0.47,"x":0.27,"y":-0.076},{"p":"r1","v":0.47,"x":0.453,"y":-0.37},{"p":"r1","v":0.47,"x":0.515,"y":-0.517},{"p":"r1","v":0.47,"x":1.078,"y":-0.566},{"p":"r1","v":0.47,"x":1.078,"y":0.831},{"p":"r1","v":0.47,"x":0.049,"y":0.831},
{"p":"r2","v":0.5,"x":-0.025,"y":0.671},{"p":"r2","v":0.5,"x":-0.012,"y":0.622},{"p":"r2","v":0.5,"x":0.049,"y":0.414},{"p":"r2","v":0.5,"x":0.172,"y":0.169},{"p":"r2","v":0.5,"x":0.355,"y":-0.076},{"p":"r2","v":0.5,"x":0.539,"y":-0.345},{"p":"r2","v":0.5,"x":0.613,"y":-0.492},{"p":"r2","v":0.5,"x":1.078,"y":-0.541},{"p":"r2","v":0.5,"x":1.078,"y":0.831},{"p":"r2","v":0.5,"x":0.098,"y":0.831},
{"p":"r3","v":0.53,"x":0.049,"y":0.708},{"p":"r3","v":0.53,"x":0.061,"y":0.659},{"p":"r3","v":0.53,"x":0.135,"y":0.414},{"p":"r3","v":0.53,"x":0.257,"y":0.169},{"p":"r3","v":0.53,"x":0.441,"y":-0.076},{"p":"r3","v":0.53,"x":0.625,"y":-0.309},{"p":"r3","v":0.53,"x":0.698,"y":-0.443},{"p":"r3","v":0.53,"x":1.078,"y":-0.492},{"p":"r3","v":0.53,"x":1.078,"y":0.831},{"p":"r3","v":0.53,"x":0.147,"y":0.831},
{"p":"r4","v":0.56,"x":0.11,"y":0.733},{"p":"r4","v":0.56,"x":0.122,"y":0.684},{"p":"r4","v":0.56,"x":0.22,"y":0.414},{"p":"r4","v":0.56,"x":0.343,"y":0.169},{"p":"r4","v":0.56,"x":0.527,"y":-0.076},{"p":"r4","v":0.56,"x":0.698,"y":-0.272},{"p":"r4","v":0.56,"x":0.772,"y":-0.382},{"p":"r4","v":0.56,"x":1.078,"y":-0.443},{"p":"r4","v":0.56,"x":1.078,"y":0.831},{"p":"r4","v":0.56,"x":0.196,"y":0.831},
{"p":"r5","v":0.58,"x":0.208,"y":0.769},{"p":"r5","v":0.58,"x":0.22,"y":0.708},{"p":"r5","v":0.58,"x":0.319,"y":0.414},{"p":"r5","v":0.58,"x":0.441,"y":0.169},{"p":"r5","v":0.58,"x":0.613,"y":-0.076},{"p":"r5","v":0.58,"x":0.76,"y":-0.272},{"p":"r5","v":0.58,"x":0.833,"y":-0.345},{"p":"r5","v":0.58,"x":1.078,"y":-0.394},{"p":"r5","v":0.58,"x":1.078,"y":0.831},{"p":"r5","v":0.58,"x":0.27,"y":0.843},
{"p":"r6","v":0.61,"x":0.294,"y":0.782},{"p":"r6","v":0.61,"x":0.306,"y":0.733},{"p":"r6","v":0.61,"x":0.417,"y":0.414},{"p":"r6","v":0.61,"x":0.551,"y":0.169},{"p":"r6","v":0.61,"x":0.711,"y":-0.076},{"p":"r6","v":0.61,"x":0.821,"y":-0.247},{"p":"r6","v":0.61,"x":0.894,"y":-0.309},{"p":"r6","v":0.61,"x":1.078,"y":-0.345},{"p":"r6","v":0.61,"x":1.078,"y":0.831},{"p":"r6","v":0.61,"x":0.355,"y":0.843},
{"p":"r7","v":0.64,"x":0.404,"y":0.794},{"p":"r7","v":0.64,"x":0.417,"y":0.745},{"p":"r7","v":0.64,"x":0.527,"y":0.414},{"p":"r7","v":0.64,"x":0.649,"y":0.169},{"p":"r7","v":0.64,"x":0.796,"y":-0.076},{"p":"r7","v":0.64,"x":0.87,"y":-0.174},{"p":"r7","v":0.64,"x":0.956,"y":-0.247},{"p":"r7","v":0.64,"x":1.078,"y":-0.296},{"p":"r7","v":0.64,"x":1.078,"y":0.831},{"p":"r7","v":0.64,"x":0.453,"y":0.843},
{"p":"r8","v":0.67,"x":0.515,"y":0.782},{"p":"r8","v":0.67,"x":0.527,"y":0.733},{"p":"r8","v":0.67,"x":0.649,"y":0.463},{"p":"r8","v":0.67,"x":0.747,"y":0.243},{"p":"r8","v":0.67,"x":0.882,"y":0.022},{"p":"r8","v":0.67,"x":0.931,"y":-0.076},{"p":"r8","v":0.67,"x":1.017,"y":-0.137},{"p":"r8","v":0.67,"x":1.078,"y":-0.076},{"p":"r8","v":0.67,"x":1.078,"y":0.831},{"p":"r8","v":0.67,"x":0.564,"y":0.843},
{"p":"r9","v":0.7,"x":0.637,"y":0.733},{"p":"r9","v":0.7,"x":0.649,"y":0.696},{"p":"r9","v":0.7,"x":0.711,"y":0.488},{"p":"r9","v":0.7,"x":0.858,"y":0.194},{"p":"r9","v":0.7,"x":0.907,"y":0.047},{"p":"r9","v":0.7,"x":1.017,"y":0.059},{"p":"r9","v":0.7,"x":1.041,"y":0.414},{"p":"r9","v":0.7,"x":0.809,"y":0.684},
{"p":"u1","v":0.41,"x":-0.221,"y":0.243},{"p":"u1","v":0.41,"x":-0.123,"y":0.169},{"p":"u1","v":0.41,"x":0,"y":0.059},{"p":"u1","v":0.41,"x":0.172,"y":-0.125},{"p":"u1","v":0.41,"x":0.392,"y":-0.321},{"p":"u1","v":0.41,"x":0.441,"y":-0.419},{"p":"u1","v":0.41,"x":0.27,"y":-0.492},{"p":"u1","v":0.41,"x":0.049,"y":-0.615},{"p":"u1","v":0.41,"x":-0.074,"y":-0.566},{"p":"u1","v":0.41,"x":-0.196,"y":-0.419},{"p":"u1","v":0.41,"x":-0.282,"y":-0.198},{"p":"u1","v":0.41,"x":-0.319,"y":0.047},{"p":"u1","v":0.41,"x":-0.27,"y":0.194},
{"p":"u2","v":0.39,"x":-0.196,"y":0.071},{"p":"u2","v":0.39,"x":-0.074,"y":0.047},{"p":"u2","v":0.39,"x":0.049,"y":-0.076},{"p":"u2","v":0.39,"x":0.196,"y":-0.223},{"p":"u2","v":0.39,"x":0.355,"y":-0.345},{"p":"u2","v":0.39,"x":0.343,"y":-0.419},{"p":"u2","v":0.39,"x":0.147,"y":-0.541},{"p":"u2","v":0.39,"x":0,"y":-0.541},{"p":"u2","v":0.39,"x":-0.123,"y":-0.394},{"p":"u2","v":0.39,"x":-0.208,"y":-0.198},{"p":"u2","v":0.39,"x":-0.233,"y":-0.027},
{"p":"u3","v":0.36,"x":-0.098,"y":-0.1},{"p":"u3","v":0.36,"x":0,"y":-0.125},{"p":"u3","v":0.36,"x":0.122,"y":-0.223},{"p":"u3","v":0.36,"x":0.27,"y":-0.345},{"p":"u3","v":0.36,"x":0.294,"y":-0.419},{"p":"u3","v":0.36,"x":0.122,"y":-0.492},{"p":"u3","v":0.36,"x":0,"y":-0.468},{"p":"u3","v":0.36,"x":-0.098,"y":-0.345},{"p":"u3","v":0.36,"x":-0.159,"y":-0.223},
{"p":"u4","v":0.33,"x":-0.049,"y":-0.113},{"p":"u4","v":0.33,"x":0.025,"y":-0.174},{"p":"u4","v":0.33,"x":0.147,"y":-0.272},{"p":"u4","v":0.33,"x":0.245,"y":-0.37},{"p":"u4","v":0.33,"x":0.122,"y":-0.443},{"p":"u4","v":0.33,"x":0.025,"y":-0.394},{"p":"u4","v":0.33,"x":-0.074,"y":-0.296},{"p":"u4","v":0.33,"x":-0.11,"y":-0.198},
{"p":"u5","v":0.3,"x":-0.037,"y":-0.198},{"p":"u5","v":0.3,"x":0.074,"y":-0.235},{"p":"u5","v":0.3,"x":0.147,"y":-0.296},{"p":"u5","v":0.3,"x":0.159,"y":-0.345},{"p":"u5","v":0.3,"x":0.074,"y":-0.37},{"p":"u5","v":0.3,"x":0,"y":-0.345},{"p":"u5","v":0.3,"x":-0.069,"y":-0.272}
],
"fm":[{"x":-1.139,"y":0.904},{"x":-1.139,"y":-0.933},{"x":1.139,"y":-0.933},{"x":1.139,"y":0.904},{"x":-1.139,"y":0.904},{"x":0.294,"y":0.728},{"x":0.392,"y":0.737},{"x":0.515,"y":0.728},{"x":0.637,"y":0.696},{"x":0.76,"y":0.61},{"x":0.87,"y":0.463},{"x":0.931,"y":0.316},{"x":0.96,"y":0.169},{"x":0.943,"y":0.047},{"x":0.894,"y":-0.101},{"x":0.809,"y":-0.235},{"x":0.711,"y":-0.296},{"x":0.539,"y":-0.37},{"x":0.392,"y":-0.439},{"x":0.27,"y":-0.492},{"x":0.147,"y":-0.566},{"x":0.025,"y":-0.652},{"x":-0.123,"y":-0.701},{"x":-0.294,"y":-0.737},{"x":-0.441,"y":-0.742},{"x":-0.564,"y":-0.713},{"x":-0.711,"y":-0.627},{"x":-0.833,"y":-0.492},{"x":-0.931,"y":-0.345},{"x":-0.968,"y":-0.174},{"x":-0.956,"y":-0.002},{"x":-0.907,"y":0.145},{"x":-0.809,"y":0.267},{"x":-0.686,"y":0.353},{"x":-0.564,"y":0.402},{"x":-0.417,"y":0.439},{"x":-0.294,"y":0.468},{"x":-0.172,"y":0.524},{"x":-0.074,"y":0.598},{"x":0.049,"y":0.659},{"x":0.172,"y":0.703},{"x":0.294,"y":0.728},{"x":-1.139,"y":0.904}],
"fg":[
{"p":"a","k":"g","x":-1.213,"y":0.831},{"p":"a","k":"g","x":-1.213,"y":-0.566},{"p":"a2","k":"g","x":-0.706,"y":1.184},{"p":"a2","k":"g","x":-0.706,"y":0.346},{"p":"a3","k":"g","x":-0.206,"y":1.537},{"p":"a3","k":"g","x":-0.206,"y":0.507},{"p":"a4","k":"g","x":0.206,"y":1.537},{"p":"a4","k":"g","x":0.206,"y":0.713},{"p":"a5","k":"g","x":0.706,"y":1.184},{"p":"a5","k":"g","x":0.706,"y":0.647},{"p":"a6","k":"g","x":1.213,"y":0.831},{"p":"a6","k":"g","x":1.213,"y":-0.566},
{"p":"c1","k":"g","x":-1.412,"y":0.493},{"p":"c1","k":"g","x":0,"y":1.478},{"p":"c1","k":"g","x":1.412,"y":0.493},
{"p":"c2","k":"g","x":-1.412,"y":0},{"p":"c2","k":"g","x":0,"y":0.985},{"p":"c2","k":"g","x":0.368,"y":0.728},{"p":"c3","k":"g","x":0.934,"y":0.331},{"p":"c3","k":"g","x":1.412,"y":0},
{"p":"c4","k":"g","x":-1.412,"y":-0.5},{"p":"c4","k":"g","x":-0.971,"y":-0.191},{"p":"c5","k":"g","x":0.882,"y":-0.132},{"p":"c5","k":"g","x":1.412,"y":-0.5},
{"p":"f1","k":"g","x":-1.213,"y":-0.846},{"p":"f1","k":"g","x":-0.794,"y":-0.551},{"p":"f2","k":"g","x":-0.706,"y":-1.199},{"p":"f2","k":"g","x":0.419,"y":-0.412},{"p":"f3","k":"g","x":-0.206,"y":-1.551},{"p":"f3","k":"g","x":1.206,"y":-0.566},
{"p":"f4","k":"g","x":-1.213,"y":-0.566},{"p":"f4","k":"g","x":0.199,"y":-1.551},{"p":"f5","k":"g","x":-0.051,"y":-0.669},{"p":"f5","k":"g","x":0.706,"y":-1.199},{"p":"f6","k":"g","x":0.515,"y":-0.36},{"p":"f6","k":"g","x":1.206,"y":-0.846},
{"p":"k0","k":"k","x":-1.412,"y":0.699},{"p":"k0","k":"k","x":-1.412,"y":-0.706},{"p":"k0","k":"k","x":0,"y":-1.691},{"p":"k0","k":"k","x":1.404,"y":-0.691},
{"p":"y1","k":"k","x":-1.412,"y":0.515},{"p":"y1","k":"k","x":-1.449,"y":0.537},{"p":"y2","k":"k","x":-1.412,"y":0.007},{"p":"y2","k":"k","x":-1.449,"y":0.029},{"p":"y3","k":"k","x":-1.412,"y":-0.493},{"p":"y3","k":"k","x":-1.449,"y":-0.471},
{"p":"t1","k":"k","x":-1.213,"y":-0.846},{"p":"t1","k":"k","x":-1.176,"y":-0.816},{"p":"t2","k":"k","x":-0.706,"y":-1.199},{"p":"t2","k":"k","x":-0.669,"y":-1.169},{"p":"t3","k":"k","x":-0.206,"y":-1.551},{"p":"t3","k":"k","x":-0.169,"y":-1.522},{"p":"t4","k":"k","x":0.206,"y":-1.551},{"p":"t4","k":"k","x":0.169,"y":-1.522},{"p":"t5","k":"k","x":0.706,"y":-1.199},{"p":"t5","k":"k","x":0.669,"y":-1.169},{"p":"t6","k":"k","x":1.213,"y":-0.846},{"p":"t6","k":"k","x":1.176,"y":-0.816},
{"p":"b1","k":"k","x":-0.706,"y":0.493},{"p":"b1","k":"k","x":-0.574,"y":0.404},{"p":"b2","k":"k","x":-0.007,"y":0.699},{"p":"b2","k":"k","x":-0.007,"y":0.493},{"p":"b3","k":"k","x":-0.706,"y":-0.493},{"p":"b3","k":"k","x":-0.566,"y":-0.397},{"p":"b4","k":"k","x":0.456,"y":-0.324},{"p":"b4","k":"k","x":0.691,"y":-0.5},{"p":"b5","k":"k","x":-0.007,"y":-0.654},{"p":"b5","k":"k","x":-0.007,"y":-0.699},{"p":"b6","k":"k","x":-0.029,"y":0.537},{"p":"b6","k":"k","x":-0.007,"y":0.493},{"p":"b6","k":"k","x":0.015,"y":0.537}],
"fl":[{"p":"a","x":-0.257,"y":0.37},{"p":"a","x":-0.368,"y":0.169},{"p":"a","x":-0.49,"y":-0.051},{"p":"a","x":-0.551,"y":-0.272},{"p":"a","x":-0.515,"y":-0.566},{"p":"a","x":-0.404,"y":-0.737},
{"p":"b","x":-0.257,"y":0.37},{"p":"b","x":-0.294,"y":0.169},{"p":"b","x":-0.306,"y":-0.125},{"p":"b","x":-0.27,"y":-0.37},{"p":"b","x":-0.074,"y":-0.59},{"p":"b","x":0.098,"y":-0.566},
{"p":"c","x":-0.257,"y":0.37},{"p":"c","x":-0.196,"y":0.12},{"p":"c","x":-0.049,"y":-0.174},{"p":"c","x":0.049,"y":-0.37},{"p":"c","x":0,"y":-0.468},{"p":"c","x":-0.123,"y":-0.615},
{"p":"d","x":-0.257,"y":0.37},{"p":"d","x":-0.074,"y":0.218},{"p":"d","x":0.196,"y":-0.002},{"p":"d","x":0.515,"y":-0.198},{"p":"d","x":0.711,"y":-0.296},
{"p":"e","x":-0.257,"y":0.37},{"p":"e","x":0.049,"y":0.341},{"p":"e","x":0.392,"y":0.243},{"p":"e","x":0.686,"y":-0.002},{"p":"e","x":0.809,"y":-0.235},
{"p":"f","x":-0.257,"y":0.37},{"p":"f","x":0.049,"y":0.488},{"p":"f","x":0.392,"y":0.586},{"p":"f","x":0.686,"y":0.537},{"p":"f","x":0.931,"y":0.292},
{"p":"g","x":-0.257,"y":0.37},{"p":"g","x":-0.098,"y":0.512},{"p":"g","x":-0.074,"y":0.598},
{"p":"h","x":-0.257,"y":0.37},{"p":"h","x":-0.49,"y":0.353},{"p":"h","x":-0.686,"y":0.243},{"p":"h","x":-0.821,"y":0.145},{"p":"h","x":-0.968,"y":-0.174},
{"p":"i","x":-0.257,"y":0.37},{"p":"i","x":-0.466,"y":0.267},{"p":"i","x":-0.735,"y":0.071},{"p":"i","x":-0.809,"y":-0.272},{"p":"i","x":-0.711,"y":-0.627},
{"p":"k","x":-0.608,"y":0.255},{"p":"k","x":-0.576,"y":0.169},{"p":"k","x":-0.441,"y":0.022},{"p":"k","x":-0.245,"y":-0.051},{"p":"k","x":-0.049,"y":0.047},{"p":"k","x":0.074,"y":0.292},{"p":"k","x":0.074,"y":0.5},
{"p":"l","x":-0.6,"y":0.255},{"p":"l","x":-0.539,"y":0.36},{"p":"l","x":-0.343,"y":0.426},{"p":"l","x":-0.098,"y":0.463},{"p":"l","x":0.074,"y":0.5},
{"p":"m","x":-0.931,"y":-0.015},{"p":"m","x":-0.686,"y":0.194},{"p":"m","x":-0.49,"y":0.316},{"p":"m","x":-0.319,"y":0.353},{"p":"m","x":-0.025,"y":0.488},{"p":"m","x":0.294,"y":0.586},{"p":"m","x":0.539,"y":0.598},{"p":"m","x":0.784,"y":0.537},{"p":"m","x":0.931,"y":0.341},
{"p":"n","x":-0.943,"y":-0.149},{"p":"n","x":-0.711,"y":-0.345},{"p":"n","x":-0.564,"y":-0.394},{"p":"n","x":-0.27,"y":-0.394},{"p":"n","x":-0.049,"y":-0.345},{"p":"n","x":0.196,"y":-0.321},{"p":"n","x":0.441,"y":-0.345},{"p":"n","x":0.613,"y":-0.309},{"p":"n","x":0.858,"y":-0.149},
{"p":"o","x":-0.833,"y":-0.492},{"p":"o","x":-0.662,"y":-0.578},{"p":"o","x":-0.368,"y":-0.59},{"p":"o","x":-0.074,"y":-0.492},{"p":"o","x":0.098,"y":-0.37},
{"p":"q1","x":0.294,"y":0.728},{"p":"q1","x":0.343,"y":0.586},{"p":"q1","x":0.319,"y":0.365},{"p":"q1","x":0.196,"y":0.145},{"p":"q1","x":0.025,"y":-0.002},
{"p":"q2","x":0.637,"y":0.696},{"p":"q2","x":0.698,"y":0.463},{"p":"q2","x":0.637,"y":0.243},{"p":"q2","x":0.49,"y":0.047},{"p":"q2","x":0.294,"y":-0.149},{"p":"q2","x":0.098,"y":-0.37},
{"p":"r","x":0.894,"y":0.071},{"p":"r","x":0.931,"y":-0.076},{"p":"r","x":0.858,"y":-0.174},{"p":"r","x":0.711,"y":-0.296},
{"p":"s","x":0.392,"y":-0.272},{"p":"s","x":0.686,"y":-0.174},{"p":"s","x":0.698,"y":-0.247},{"p":"s","x":0.637,"y":-0.321},
{"p":"t","x":-0.245,"y":-0.701},{"p":"t","x":0.049,"y":-0.492},{"p":"t","x":0.245,"y":-0.468},{"p":"t","x":0.417,"y":-0.431}],
"fs":[{"x":-0.519,"y":0.468},{"x":-0.348,"y":0.5},{"x":-0.674,"y":0.402},{"x":-0.796,"y":0.304},{"x":-0.902,"y":0.174},{"x":-0.943,"y":0.059},{"x":-0.671,"y":0.152},{"x":-0.821,"y":0.005},{"x":-0.931,"y":-0.162},{"x":-0.497,"y":0.267},{"x":-0.343,"y":0.047},{"x":-0.417,"y":-0.056},{"x":-0.478,"y":-0.167},{"x":-0.534,"y":-0.287},{"x":-0.568,"y":-0.407},{"x":-0.417,"y":-0.419},{"x":-0.277,"y":-0.407},{"x":-0.147,"y":-0.37},{"x":-0.044,"y":-0.341},{"x":0.029,"y":-0.321},{"x":0.115,"y":-0.314},{"x":0.203,"y":-0.314},{"x":0.323,"y":-0.341},{"x":0.461,"y":-0.333},{"x":0.613,"y":-0.309},{"x":0.752,"y":-0.247},{"x":0.858,"y":-0.162},{"x":0.926,"y":-0.064},{"x":0.943,"y":0.047},{"x":-0.005,"y":0.5},{"x":0.091,"y":0.598},{"x":0.189,"y":0.679},{"x":0.289,"y":0.728},{"x":0.387,"y":0.752},{"x":0.478,"y":0.745},{"x":-0.257,"y":0.37},{"x":-0.25,"y":0.375},{"x":-0.264,"y":0.365},{"x":-0.331,"y":0.353},{"x":-0.176,"y":0.512},{"x":-0.176,"y":0.426},{"x":-0.086,"y":0.402},{"x":-0.159,"y":0.304},{"x":-0.221,"y":0.218},{"x":-0.289,"y":0.132},{"x":-0.551,"y":-0.706},{"x":-0.49,"y":-0.755},{"x":-0.402,"y":-0.767},{"x":-0.306,"y":-0.755}],
"ft":[{"t":"|","k":"p","o":"h","x":-1.147,"y":-1.926},{"t":"g","k":"g","o":"h","x":-1.074,"y":-1.926},{"t":"z","k":"s","o":"h","x":-0.971,"y":-2.022},{"t":"|","k":"p","o":"h","x":-0.89,"y":-1.926},{"t":"|","k":"p","o":"h","x":0.923,"y":-1.926},{"t":"g","k":"g","o":"h","x":1.0,"y":-1.926},{"t":"x","k":"s","o":"h","x":1.11,"y":-2.022},{"t":"|","k":"p","o":"h","x":1.176,"y":-1.926},{"t":"|","k":"p","o":"v","x":-1.919,"y":-0.125},{"t":"g","k":"g","o":"v","x":-1.919,"y":-0.066},{"t":"y","k":"s","o":"v","x":-1.816,"y":0.044},{"t":"|","k":"p","o":"v","x":-1.919,"y":0.118}]
},
"concat":[
{"width":202,"height":181,"layer":[
{"data":{"name":"db"},"transform":[{"window":[{"op":"row_number","as":"n"}]}],"mark":{"type":"line","interpolate":"cardinal-closed","tension":0.5,"strokeWidth":0},"encoding":{"x":{"field":"x","type":"quantitative","scale":{"domain":[-0.7,0.7],"nice":false,"zero":false},"axis":{"values":[-0.5,0,0.5],"labelExpr":"abs(datum.value)","tickSize":-4,"labelPadding":15}},"y":{"field":"y","type":"quantitative","scale":{"domain":[-0.7,0.7],"nice":false,"zero":false},"axis":{"values":[-0.5,0,0.5],"labelExpr":"abs(datum.value)","tickSize":-4,"labelPadding":14}},"detail":{"field":"p"},"order":{"field":"n"},"fill":{"field":"v","type":"quantitative","legend":null,"scale":{"type":"threshold","domain":[0.3144,0.3428,0.3712,0.3996,0.428,0.4564,0.4848,0.5132,0.5416,0.57,0.5984,0.6268,0.6552,0.6836],"range":["#0000b8","#0000ff","#0040ff","#0080ff","#00bfff","#00ffff","#40ffbf","#80ff80","#bfff40","#ffff00","#ffbf00","#ff8000","#ff4500","#ff0000","#b80000"]}}}},
{"data":{"name":"dm"},"transform":[{"window":[{"op":"row_number","as":"n"}]}],"mark":{"type":"line","fill":"white","strokeWidth":0},"encoding":{"x":{"field":"x","type":"quantitative"},"y":{"field":"y","type":"quantitative"},"order":{"field":"n"}}},
{"data":{"name":"dg"},"mark":{"type":"line","strokeWidth":2},"encoding":{"x":{"field":"x","type":"quantitative"},"y":{"field":"y","type":"quantitative"},"detail":{"field":"p"},"color":{"field":"k","type":"nominal","legend":null,"scale":{"domain":["g","k"],"range":["#dcdcdc","#111111"]}},"order":{"field":"y"}}},
{"data":{"name":"dl"},"transform":[{"window":[{"op":"row_number","as":"n"}]}],"mark":{"type":"line","interpolate":"cardinal","stroke":"#111111","strokeWidth":0.7},"encoding":{"x":{"field":"x","type":"quantitative"},"y":{"field":"y","type":"quantitative"},"detail":{"field":"p"},"order":{"field":"n"}}},
{"data":{"name":"ds"},"mark":{"type":"point","shape":"M-1,0L1,0M0,-1L0,1M-.7,-.7L.7,.7M-.7,.7L.7,-.7","size":90,"stroke":"#111111","strokeWidth":0.6,"opacity":1,"filled":false},"encoding":{"x":{"field":"x","type":"quantitative"},"y":{"field":"y","type":"quantitative"}}},
{"data":{"name":"dt"},"transform":[{"filter":"datum.k=='p'"}],"mark":{"type":"text","font":"Liberation Sans","color":"#262626","baseline":"alphabetic","align":"center"},"encoding":{"x":{"field":"x","type":"quantitative"},"y":{"field":"y","type":"quantitative"},"text":{"field":"t"},"size":{"field":"k","type":"nominal","legend":null,"scale":{"domain":["p","g","s"],"range":[27,28,21]}},"angle":{"field":"o","type":"nominal","legend":null,"scale":{"domain":["h","v"],"range":[0,270]}}}},
{"data":{"name":"dt"},"transform":[{"filter":"datum.k!='p'"}],"mark":{"type":"text","font":"Liberation Sans","fontStyle":"italic","color":"#262626","baseline":"alphabetic","align":"center"},"encoding":{"x":{"field":"x","type":"quantitative"},"y":{"field":"y","type":"quantitative"},"text":{"field":"t"},"size":{"field":"k","type":"nominal","legend":null,"scale":{"domain":["p","g","s"],"range":[27,28,21]}},"angle":{"field":"o","type":"nominal","legend":null,"scale":{"domain":["h","v"],"range":[0,270]}}}},
{"data":{"values":[{"t":"d","x":-1.13,"y":0.561}]},"mark":{"type":"text","font":"Liberation Sans","fontWeight":"bold","fontSize":27,"color":"black","baseline":"alphabetic","align":"center"},"encoding":{"x":{"field":"x","type":"quantitative"},"y":{"field":"y","type":"quantitative"},"text":{"field":"t"}}}
]},
{"width":248,"height":181,"layer":[
{"data":{"values":[{"x":-4.25,"x2":1.794,"y":2.0,"y2":-2.14}]},"mark":{"type":"rect","fill":null,"stroke":"#333333","strokeWidth":2},"encoding":{"x":{"field":"x","type":"quantitative","scale":{"domain":[-1.412,0.412],"nice":false,"zero":false},"axis":null},"x2":{"field":"x2"},"y":{"field":"y","type":"quantitative","scale":{"domain":[0.559,1.89],"nice":false,"zero":false},"axis":null},"y2":{"field":"y2"}}},
{"data":{"name":"fb"},"transform":[{"window":[{"op":"row_number","as":"n"}]}],"mark":{"type":"line","interpolate":"cardinal-closed","tension":0.5,"strokeWidth":0},"encoding":{"x":{"field":"x","type":"quantitative"},"y":{"field":"y","type":"quantitative"},"detail":{"field":"p"},"order":{"field":"n"},"fill":{"field":"v","type":"quantitative","legend":null,"scale":{"type":"threshold","domain":[0.3144,0.3428,0.3712,0.3996,0.428,0.4564,0.4848,0.5132,0.5416,0.57,0.5984,0.6268,0.6552,0.6836],"range":["#0000b8","#0000ff","#0040ff","#0080ff","#00bfff","#00ffff","#40ffbf","#80ff80","#bfff40","#ffff00","#ffbf00","#ff8000","#ff4500","#ff0000","#b80000"]}}}},
{"data":{"name":"fm"},"transform":[{"window":[{"op":"row_number","as":"n"}]}],"mark":{"type":"line","fill":"white","strokeWidth":0},"encoding":{"x":{"field":"x","type":"quantitative"},"y":{"field":"y","type":"quantitative"},"order":{"field":"n"}}},
{"data":{"name":"fg"},"transform":[{"window":[{"op":"row_number","as":"n"}]}],"mark":{"type":"line","strokeWidth":2},"encoding":{"x":{"field":"x","type":"quantitative"},"y":{"field":"y","type":"quantitative"},"detail":{"field":"p"},"order":{"field":"n"},"color":{"field":"k","type":"nominal","legend":null,"scale":{"domain":["g","k"],"range":["#dcdcdc","#111111"]}}}},
{"data":{"name":"fl"},"transform":[{"window":[{"op":"row_number","as":"n"}]}],"mark":{"type":"line","interpolate":"cardinal","stroke":"#111111","strokeWidth":0.7},"encoding":{"x":{"field":"x","type":"quantitative"},"y":{"field":"y","type":"quantitative"},"detail":{"field":"p"},"order":{"field":"n"}}},
{"data":{"name":"fs"},"mark":{"type":"point","shape":"M-1,0L1,0M0,-1L0,1M-.7,-.7L.7,.7M-.7,.7L.7,-.7","size":90,"stroke":"#111111","strokeWidth":0.6,"opacity":1,"filled":false},"encoding":{"x":{"field":"x","type":"quantitative"},"y":{"field":"y","type":"quantitative"}}},
{"data":{"name":"ft"},"transform":[{"filter":"datum.k=='p'"}],"mark":{"type":"text","font":"Liberation Sans","color":"#262626","baseline":"alphabetic","align":"center"},"encoding":{"x":{"field":"x","type":"quantitative"},"y":{"field":"y","type":"quantitative"},"text":{"field":"t"},"size":{"field":"k","type":"nominal","legend":null,"scale":{"domain":["p","g","s"],"range":[27,28,21]}},"angle":{"field":"o","type":"nominal","legend":null,"scale":{"domain":["h","v"],"range":[0,270]}}}},
{"data":{"name":"ft"},"transform":[{"filter":"datum.k!='p'"}],"mark":{"type":"text","font":"Liberation Sans","fontStyle":"italic","color":"#262626","baseline":"alphabetic","align":"center"},"encoding":{"x":{"field":"x","type":"quantitative"},"y":{"field":"y","type":"quantitative"},"text":{"field":"t"},"size":{"field":"k","type":"nominal","legend":null,"scale":{"domain":["p","g","s"],"range":[27,28,21]}},"angle":{"field":"o","type":"nominal","legend":null,"scale":{"domain":["h","v"],"range":[0,270]}}}},
{"data":{"values":[{"t":"0.5","x":-1.419,"y":-1.029},{"t":"0","x":-0.838,"y":-1.375},{"t":"0.5","x":-0.397,"y":-1.735},{"t":"0.5","x":0.419,"y":-1.728},{"t":"0","x":0.853,"y":-1.375},{"t":"0.5","x":1.434,"y":-1.029},{"t":"0.5","x":-1.617,"y":0.544},{"t":"0","x":-1.544,"y":0.044},{"t":"0.5","x":-1.617,"y":-0.456}]},"mark":{"type":"text","font":"Liberation Sans","fontSize":23,"color":"#262626","baseline":"middle","align":"center"},"encoding":{"x":{"field":"x","type":"quantitative"},"y":{"field":"y","type":"quantitative"},"text":{"field":"t"}}},
{"data":{"values":[{"t":"f","x":-0.596,"y":1.721}]},"mark":{"type":"text","font":"Liberation Sans","fontWeight":"bold","fontSize":27,"color":"black","baseline":"alphabetic","align":"center"},"encoding":{"x":{"field":"x","type":"quantitative"},"y":{"field":"y","type":"quantitative"},"text":{"field":"t"}}},
{"data":{"values":[{"x":-1.787,"x2":-1.301,"y":1.934,"y2":1.654}]},"mark":{"type":"rect","fill":null,"stroke":"black","strokeWidth":2},"encoding":{"x":{"field":"x","type":"quantitative"},"x2":{"field":"x2"},"y":{"field":"y","type":"quantitative"},"y2":{"field":"y2"}}},
{"data":{"values":[{"t":"hole","x":-1.551,"y":1.699}]},"mark":{"type":"text","font":"Liberation Serif","fontSize":30,"color":"black","baseline":"alphabetic","align":"center"},"encoding":{"x":{"field":"x","type":"quantitative"},"y":{"field":"y","type":"quantitative"},"text":{"field":"t"}}}
]},
{"width":41,"height":182,"data":{"values":[{"v":0.3,"a":0.286,"b":0.3144},{"v":0.33,"a":0.3144,"b":0.3428},{"v":0.36,"a":0.3428,"b":0.3712},{"v":0.39,"a":0.3712,"b":0.3996},{"v":0.41,"a":0.3996,"b":0.428},{"v":0.44,"a":0.428,"b":0.4564},{"v":0.47,"a":0.4564,"b":0.4848},{"v":0.5,"a":0.4848,"b":0.5132},{"v":0.53,"a":0.5132,"b":0.5416},{"v":0.56,"a":0.5416,"b":0.57},{"v":0.58,"a":0.57,"b":0.5984},{"v":0.61,"a":0.5984,"b":0.6268},{"v":0.64,"a":0.6268,"b":0.6552},{"v":0.67,"a":0.6552,"b":0.6836},{"v":0.7,"a":0.6836,"b":0.712}]},"mark":{"type":"rect"},"encoding":{"y":{"field":"a","type":"quantitative","scale":{"domain":[0.286,0.7025],"nice":false,"zero":false},"axis":{"orient":"right","values":[0.3,0.4,0.5,0.6,0.7],"format":".1f","domain":false,"tickSize":-3,"labelPadding":11,"labelFontSize":21}},"y2":{"field":"b"},"fill":{"field":"v","type":"quantitative","legend":null,"scale":{"type":"threshold","domain":[0.3144,0.3428,0.3712,0.3996,0.428,0.4564,0.4848,0.5132,0.5416,0.57,0.5984,0.6268,0.6552,0.6836],"range":["#0000b8","#0000ff","#0040ff","#0080ff","#00bfff","#00ffff","#40ffbf","#80ff80","#bfff40","#ffff00","#ffbf00","#ff8000","#ff4500","#ff0000","#b80000"]}}}},
{"width":202,"height":188,"layer":[
{"data":{"name":"eb"},"transform":[{"window":[{"op":"row_number","as":"n"}]}],"mark":{"type":"line","interpolate":"cardinal-closed","tension":0.5,"strokeWidth":0},"encoding":{"x":{"field":"x","type":"quantitative","scale":{"domain":[-0.7,0.7],"nice":false,"zero":false},"axis":{"values":[-0.5,0,0.5],"labelExpr":"abs(datum.value)","tickSize":-4,"labelPadding":15}},"y":{"field":"y","type":"quantitative","scale":{"domain":[-0.7,0.7],"nice":false,"zero":false},"axis":{"values":[-0.5,0,0.5],"labelExpr":"abs(datum.value)","tickSize":-4,"labelPadding":14}},"detail":{"field":"p"},"order":{"field":"n"},"fill":{"field":"v","type":"quantitative","legend":null,"scale":{"type":"threshold","domain":[0.3144,0.3428,0.3712,0.3996,0.428,0.4564,0.4848,0.5132,0.5416,0.57,0.5984,0.6268,0.6552,0.6836],"range":["#0000b8","#0000ff","#0040ff","#0080ff","#00bfff","#00ffff","#40ffbf","#80ff80","#bfff40","#ffff00","#ffbf00","#ff8000","#ff4500","#ff0000","#b80000"]}}}},
{"data":{"name":"em"},"transform":[{"window":[{"op":"row_number","as":"n"}]}],"mark":{"type":"line","fill":"white","strokeWidth":0},"encoding":{"x":{"field":"x","type":"quantitative"},"y":{"field":"y","type":"quantitative"},"order":{"field":"n"}}},
{"data":{"name":"eg"},"mark":{"type":"line","strokeWidth":2},"encoding":{"x":{"field":"x","type":"quantitative"},"y":{"field":"y","type":"quantitative"},"detail":{"field":"p"},"color":{"field":"k","type":"nominal","legend":null,"scale":{"domain":["g","k"],"range":["#dcdcdc","#111111"]}},"order":{"field":"y"}}},
{"data":{"name":"el"},"transform":[{"window":[{"op":"row_number","as":"n"}]}],"mark":{"type":"line","interpolate":"cardinal","stroke":"#111111","strokeWidth":0.7},"encoding":{"x":{"field":"x","type":"quantitative"},"y":{"field":"y","type":"quantitative"},"detail":{"field":"p"},"order":{"field":"n"}}},
{"data":{"name":"es"},"mark":{"type":"point","shape":"M-1,0L1,0M0,-1L0,1M-.7,-.7L.7,.7M-.7,.7L.7,-.7","size":90,"stroke":"#111111","strokeWidth":0.6,"opacity":1,"filled":false},"encoding":{"x":{"field":"x","type":"quantitative"},"y":{"field":"y","type":"quantitative"}}},
{"data":{"name":"et"},"transform":[{"filter":"datum.k=='p'"}],"mark":{"type":"text","font":"Liberation Sans","color":"#262626","baseline":"alphabetic","align":"center"},"encoding":{"x":{"field":"x","type":"quantitative"},"y":{"field":"y","type":"quantitative"},"text":{"field":"t"},"size":{"field":"k","type":"nominal","legend":null,"scale":{"domain":["p","g","s"],"range":[27,28,21]}},"angle":{"field":"o","type":"nominal","legend":null,"scale":{"domain":["h","v"],"range":[0,270]}}}},
{"data":{"name":"et"},"transform":[{"filter":"datum.k!='p'"}],"mark":{"type":"text","font":"Liberation Sans","fontStyle":"italic","color":"#262626","baseline":"alphabetic","align":"center"},"encoding":{"x":{"field":"x","type":"quantitative"},"y":{"field":"y","type":"quantitative"},"text":{"field":"t"},"size":{"field":"k","type":"nominal","legend":null,"scale":{"domain":["p","g","s"],"range":[27,28,21]}},"angle":{"field":"o","type":"nominal","legend":null,"scale":{"domain":["h","v"],"range":[0,270]}}}},
{"data":{"values":[{"t":"e","x":-1.13,"y":0.478}]},"mark":{"type":"text","font":"Liberation Sans","fontWeight":"bold","fontSize":27,"color":"black","baseline":"alphabetic","align":"center"},"encoding":{"x":{"field":"x","type":"quantitative"},"y":{"field":"y","type":"quantitative"},"text":{"field":"t"}}}
]}
]}
